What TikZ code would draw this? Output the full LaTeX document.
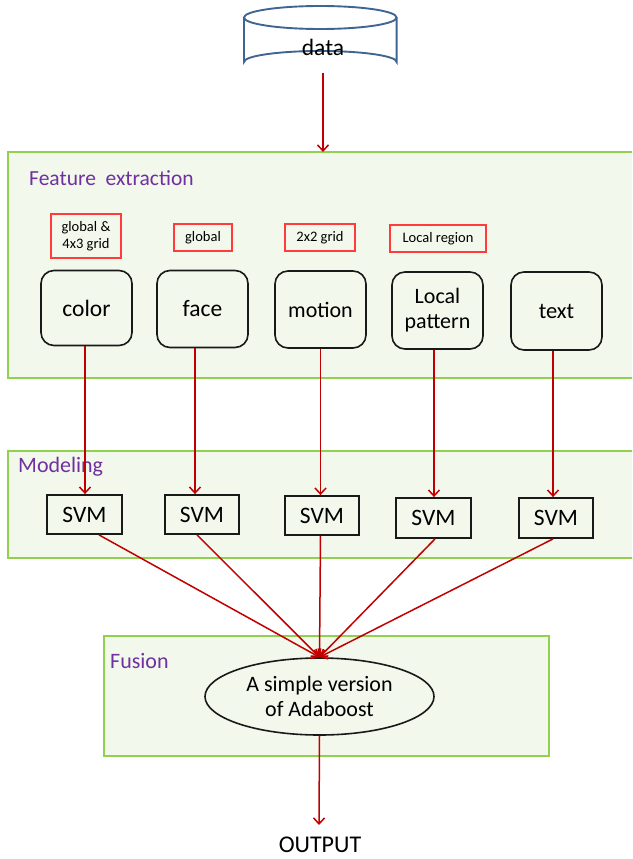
\documentclass[tikz,border=0pt]{standalone}
\usepackage{fontspec}
\setmainfont{Carlito}
\usetikzlibrary{arrows.meta,shapes.geometric}
\definecolor{grpfill}{HTML}{F2F8EC}
\definecolor{grpline}{HTML}{92D050}
\definecolor{arrowred}{HTML}{C00000}
\definecolor{titlepurple}{HTML}{7030A0}
\definecolor{cylblue}{HTML}{3F6592}
\definecolor{labred}{HTML}{FF3B3B}
\tikzset{
  grp/.style={draw=grpline, fill=grpfill, line width=1.8pt},
  grptitle/.style={anchor=west, text=titlepurple, font=\fontsize{22}{24}\selectfont, inner sep=0pt},
  featbox/.style={draw=black!90, line width=1.6pt, rounded corners=13pt, align=center,
    font=\fontsize{23.5}{25}\selectfont, inner sep=0pt},
  labbox/.style={draw=labred, line width=1.2pt, align=center, inner sep=0pt,
    font=\fontsize{14.5}{17}\selectfont},
  svmbox/.style={draw=black!90, line width=1.8pt, font=\fontsize{23.5}{25}\selectfont,
    minimum width=74pt, minimum height=39pt, inner sep=0pt},
  redarrow/.style={draw=arrowred, line width=1.5pt, -{Straight Barb[length=6pt,width=11pt]}},
}
\begin{document}
\begin{tikzpicture}[x=1pt,y=-1pt]
\useasboundingbox (0,0) rectangle (632,859);
\clip (0,0) rectangle (632,859);

% data cylinder
\fill[white] (244,17.5) -- (244,62) arc[start angle=180,end angle=360,x radius=76.3,y radius=11]
  -- (396.6,17.5) arc[start angle=0,end angle=180,x radius=76.3,y radius=11.5] -- cycle;
\draw[cylblue, line width=1.9pt] (244,17.5) -- (244,62) arc[start angle=180,end angle=360,x radius=76.3,y radius=11]
  -- (396.6,17.5);
\draw[cylblue, line width=1.9pt] (320.3,17.5) ellipse[x radius=76.3,y radius=11.5];
\node[font=\fontsize{23.5}{25}\selectfont] (data) at (323,47) {data};
\coordinate (databot) at (323,73);

% groups
\draw[grp] (8,152) rectangle (645,378);
\node[grptitle, font=\fontsize{21.5}{24}\selectfont] (fetitle) at (29,178) {Feature\hspace{0.45em}extraction};
\draw[grp] (8,451) rectangle (645,558);
\node[grptitle] (mtitle) at (18,467) {Modeling};
\draw[grp] (104,636) rectangle (549,756);
\node[grptitle] (ftitle) at (110,661) {Fusion};

\coordinate (fetop) at (323,152);
\draw[redarrow] (databot) -- (fetop);

% labels
\node[labbox, minimum width=70pt, minimum height=44pt] (l1) at (86,236) {global \&\\4x3 grid};
\node[labbox, minimum width=58pt, minimum height=27pt] (l2) at (203,237.5) {global};
\node[labbox, minimum width=70pt, minimum height=27pt] (l3) at (320,237.5) {2x2 grid};
\node[labbox, minimum width=96pt, minimum height=27pt] (l4) at (438,238.5) {Local region};

% feature boxes
\node[featbox, minimum width=91pt, minimum height=75pt] (color) at (86.5,308) {color};
\node[featbox, minimum width=91pt, minimum height=77pt] (face) at (202.5,309) {face};
\node[featbox, minimum width=91pt, minimum height=77pt, font=\fontsize{22}{25}\selectfont] (motion) at (320.5,309.5) {motion};
\node[featbox, minimum width=91pt, minimum height=77pt, font=\fontsize{22}{25}\selectfont] (local) at (437.5,310.5) {Local\\pattern};
\node[featbox, minimum width=91pt, minimum height=78pt, font=\fontsize{22.5}{25}\selectfont] (text) at (556.5,311) {text};

% svm boxes
\node[svmbox, minimum width=75pt] (s1) at (84.5,514.5) {SVM};
\node[svmbox] (s2) at (202,514.5) {SVM};
\node[svmbox, minimum width=73.5pt] (s3) at (322,515.5) {SVM};
\node[svmbox, minimum width=75pt, minimum height=40pt] (s4) at (433.5,518) {SVM};
\node[svmbox, minimum height=40pt] (s5) at (556,518) {SVM};

\draw[redarrow] ([xshift=-1.5pt]color.south) -- ([xshift=-1.5pt]color.south |- s1.north);
\draw[redarrow] ([xshift=-7.5pt]face.south) -- ([xshift=-7.5pt]face.south |- s2.north);
\draw[redarrow] (motion.south) -- (motion.south |- s3.north);
\draw[redarrow] ([xshift=-3.5pt]local.south) -- ([xshift=-3.5pt]local.south |- s4.north);
\draw[redarrow] ([xshift=-3.5pt]text.south) -- ([xshift=-3.5pt]text.south |- s5.north);

% fusion ellipse
\node[ellipse, draw=black!90, line width=1.6pt, minimum width=229pt, minimum height=77pt,
  align=center, inner sep=0pt, font=\fontsize{22}{25}\selectfont] (ada) at (319.5,696.5) {A simple version\\of Adaboost};

\draw[redarrow] ([xshift=14.5pt]s1.south) -- (ada.north);
\draw[redarrow] ([xshift=-5pt]s2.south) -- (ada.north);
\draw[redarrow] ([xshift=-1.5pt]s3.south) -- (ada.north);
\draw[redarrow] ([xshift=1.5pt]s4.south) -- (ada.north);
\draw[redarrow] ([xshift=-3pt]s5.south) -- (ada.north);

\node[font=\fontsize{24}{26}\selectfont, anchor=north, inner sep=0pt] (out) at (320,837) {OUTPUT};
\draw[redarrow] (ada.south) -- ([xshift=-1pt,yshift=12pt]out.north);
\end{tikzpicture}
\end{document}
